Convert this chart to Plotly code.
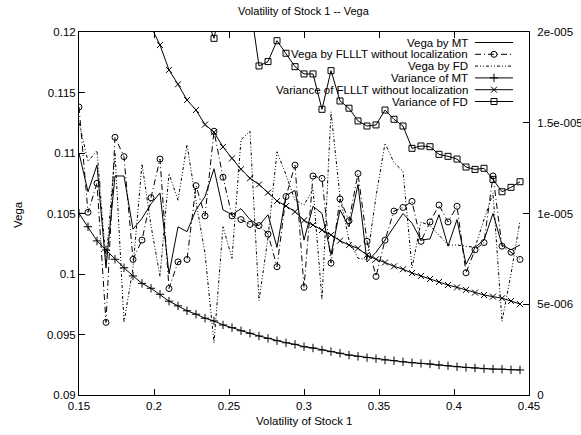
import plotly.graph_objects as go

# ---------------- data ----------------
vol = [0.150, 0.156, 0.162, 0.168, 0.174, 0.180, 0.186, 0.192, 0.198, 0.204,
       0.210, 0.216, 0.222, 0.228, 0.234, 0.240, 0.246, 0.252, 0.258, 0.264,
       0.270, 0.276, 0.282, 0.288, 0.294, 0.300, 0.306, 0.312, 0.318, 0.324,
       0.330, 0.336, 0.342, 0.348, 0.354, 0.360, 0.366, 0.372, 0.378, 0.384,
       0.390, 0.396, 0.402, 0.408, 0.414, 0.420, 0.426, 0.432, 0.438, 0.444]

vega_mt = [0.1100, 0.1068, 0.1090, 0.1005, 0.1081, 0.1081, 0.1037, 0.1046, 0.1058, 0.1067,
           0.1000, 0.1039, 0.1035, 0.1053, 0.1064, 0.1087, 0.1053, 0.1049, 0.1054, 0.1045,
           0.1040, 0.1049, 0.1022, 0.1065, 0.1069, 0.1028, 0.1056, 0.1050, 0.1016, 0.1053,
           0.1039, 0.1074, 0.1010, 0.1018, 0.1028, 0.1039, 0.1050, 0.1042, 0.1028, 0.1029,
           0.1049, 0.1023, 0.1045, 0.1008, 0.1022, 0.1028, 0.1050, 0.1024, 0.1020, 0.1024]

vega_fl = [0.1138, 0.1051, 0.1075, 0.0960, 0.1113, 0.1097, 0.1012, 0.1028, 0.1063, 0.1095,
           0.0988, 0.1010, 0.1012, 0.1073, 0.1048, 0.1118, 0.1080, 0.1048, 0.1045, 0.1041,
           0.1040, 0.1033, 0.1006, 0.1064, 0.1090, 0.0989, 0.1081, 0.1079, 0.1009, 0.1062,
           0.1044, 0.1083, 0.1027, 0.0998, 0.1028, 0.1052, 0.1055, 0.1060, 0.1027, 0.1043,
           0.1057, 0.1043, 0.1056, 0.1001, 0.1020, 0.1026, 0.1081, 0.1023, 0.1018, 0.1012]

vega_fd = [0.1125, 0.1093, 0.1102, 0.1010, 0.1100, 0.0960, 0.1005, 0.1091, 0.1040, 0.0998,
           0.1083, 0.1061, 0.1107, 0.1060, 0.1017, 0.0943, 0.1039, 0.1013, 0.1111, 0.1118,
           0.0978, 0.1030, 0.1101, 0.1082, 0.1061, 0.1057, 0.1070, 0.0979, 0.1134, 0.1064,
           0.1028, 0.1013, 0.1012, 0.1064, 0.1108, 0.1092, 0.1085, 0.1005, 0.1043, 0.1040,
           0.1032, 0.1024, 0.1024, 0.1023, 0.1022, 0.1045, 0.1067, 0.0961, 0.1000, 0.1044]

var_mt = [1.001e-5, 9.27e-6, 8.49e-6, 7.99e-6, 7.48e-6, 7.01e-6, 6.56e-6, 6.15e-6, 5.88e-6, 5.55e-6,
          5.17e-6, 4.91e-6, 4.64e-6, 4.45e-6, 4.23e-6, 4.08e-6, 3.86e-6, 3.71e-6, 3.54e-6, 3.40e-6,
          3.25e-6, 3.12e-6, 2.99e-6, 2.88e-6, 2.79e-6, 2.66e-6, 2.59e-6, 2.48e-6, 2.39e-6, 2.30e-6,
          2.20e-6, 2.13e-6, 2.06e-6, 2.00e-6, 1.93e-6, 1.89e-6, 1.83e-6, 1.78e-6, 1.74e-6, 1.71e-6,
          1.65e-6, 1.61e-6, 1.56e-6, 1.52e-6, 1.49e-6, 1.45e-6, 1.43e-6, 1.42e-6, 1.39e-6, 1.38e-6]

var_fl = [3.50e-5, 3.25e-5, 3.00e-5, 2.80e-5, 2.60e-5, 2.43e-5, 2.28e-5, 2.15e-5, 2.03e-5, 1.928e-5,
          1.791e-5, 1.712e-5, 1.625e-5, 1.570e-5, 1.490e-5, 1.448e-5, 1.367e-5, 1.304e-5, 1.244e-5, 1.194e-5,
          1.160e-5, 1.115e-5, 1.069e-5, 1.041e-5, 1.010e-5, 9.62e-6, 9.37e-6, 9.09e-6, 8.82e-6, 8.50e-6,
          8.26e-6, 8.08e-6, 7.71e-6, 7.48e-6, 7.30e-6, 7.09e-6, 6.93e-6, 6.72e-6, 6.56e-6, 6.39e-6,
          6.23e-6, 6.06e-6, 5.93e-6, 5.79e-6, 5.64e-6, 5.51e-6, 5.42e-6, 5.33e-6, 5.18e-6, 5.01e-6]

var_fd = [3.60e-5, 3.30e-5, 3.50e-5, 3.00e-5, 3.10e-5, 2.90e-5, 2.80e-5, 2.95e-5, 2.60e-5, 2.70e-5,
          2.50e-5, 2.45e-5, 2.30e-5, 2.35e-5, 2.10e-5, 1.965e-5, 2.20e-5, 2.05e-5, 2.25e-5, 2.16e-5,
          1.813e-5, 1.837e-5, 1.952e-5, 1.883e-5, 1.809e-5, 1.769e-5, 1.769e-5, 1.574e-5, 1.787e-5, 1.620e-5,
          1.580e-5, 1.510e-5, 1.482e-5, 1.488e-5, 1.570e-5, 1.519e-5, 1.482e-5, 1.359e-5, 1.372e-5, 1.368e-5,
          1.326e-5, 1.315e-5, 1.300e-5, 1.256e-5, 1.243e-5, 1.249e-5, 1.188e-5, 1.120e-5, 1.144e-5, 1.175e-5]

x_ticks = [0.15, 0.2, 0.25, 0.3, 0.35, 0.4, 0.45]
x_ticktext = ["0.15", "0.2", "0.25", "0.3", "0.35", "0.4", "0.45"]
y_ticks = [0.09, 0.095, 0.1, 0.105, 0.11, 0.115, 0.12]
y_ticktext = ["0.09", "0.095", "0.1", "0.105", "0.11", "0.115", "0.12"]
y2_ticks = [0, 5e-6, 1e-5, 1.5e-5, 2e-5]
y2_ticktext = ["0", "5e-006", "1e-005", "1.5e-005", "2e-005"]

names = ["Vega by MT", "Vega by FLLLT without localization", "Vega by FD",
         "Variance of MT", "Variance of FLLLT without localization", "Variance of FD"]

# ---------------- styles ----------------
FONT = "Liberation Sans, Arial, Helvetica, sans-serif"
LC = "#000000"
dash_fl = "6px,3px,1px,3px"
dash_fd = "3px,2px,1px,2px,1px,2px"
styles = [
    dict(dash="solid", symbol=None),
    dict(dash=dash_fl, symbol="circle-open"),
    dict(dash=dash_fd, symbol=None),
    dict(dash="solid", symbol="cross-thin-open"),
    dict(dash="solid", symbol="x-thin-open"),
    dict(dash="solid", symbol="square-open"),
]
series = [(vega_mt, "y"), (vega_fl, "y"), (vega_fd, "y"),
          (var_mt, "y2"), (var_fl, "y2"), (var_fd, "y2")]
MS = 6

fig = go.Figure()
for (vals, ax), st, nm in zip(series, styles, names):
    mode = "lines+markers" if st["symbol"] else "lines"
    tr = dict(x=vol, y=vals, name=nm, mode=mode, yaxis=ax, showlegend=False,
              line=dict(color=LC, width=1, dash=st["dash"]))
    if st["symbol"]:
        tr["marker"] = dict(symbol=st["symbol"], size=MS, color=LC,
                            line=dict(color=LC, width=1))
    fig.add_trace(go.Scatter(**tr))

# ---------------- gnuplot-like key (top right, text right-aligned) ----------------
L, R, T, B = 79, 529, 32, 395
def px_x(p):
    return (p - L) / (R - L)
def px_y(p):
    return (B - p) / (B - T)

row_py = [42.5, 54.3, 66.1, 77.9, 89.7, 101.5]
sx0, sx1, sxm, tx = px_x(475), px_x(513), px_x(494), px_x(470)
for nm, st, py in zip(names, styles, row_py):
    yy = px_y(py)
    fig.add_trace(go.Scatter(x=[sx0, sx1], y=[yy, yy], mode="lines", xaxis="x3", yaxis="y3",
                             showlegend=False, hoverinfo="skip",
                             line=dict(color=LC, width=1, dash=st["dash"])))
    if st["symbol"]:
        fig.add_trace(go.Scatter(x=[sxm], y=[yy], mode="markers", xaxis="x3", yaxis="y3",
                                 showlegend=False, hoverinfo="skip",
                                 marker=dict(symbol=st["symbol"], size=MS, color=LC,
                                             line=dict(color=LC, width=1))))
    fig.add_annotation(x=tx, y=yy, xref="x3", yref="y3", text=nm, showarrow=False,
                       xanchor="right", yanchor="middle",
                       font=dict(family=FONT, size=11.5, color="#000"))

axis_common = dict(showgrid=False, zeroline=False, showline=True, linecolor="#000",
                   linewidth=1, ticks="inside", ticklen=6, tickcolor="#000",
                   automargin=False,
                   tickfont=dict(family=FONT, size=11.5, color="#000"))

fig.update_layout(
    width=581, height=435, autosize=False,
    margin=dict(l=L, r=581 - R, t=T, b=435 - B, pad=0),
    paper_bgcolor="white", plot_bgcolor="white",
    showlegend=False,
    xaxis=dict(range=[0.15, 0.45], tickvals=x_ticks, ticktext=x_ticktext,
               mirror="ticks", **axis_common),
    yaxis=dict(range=[0.09, 0.12], tickvals=y_ticks, ticktext=y_ticktext,
               **axis_common),
    yaxis2=dict(range=[0, 2e-5], tickvals=y2_ticks, ticktext=y2_ticktext,
                overlaying="y", side="right", ticklabelstandoff=5, **axis_common),
    xaxis3=dict(range=[0, 1], overlaying="x", visible=False, fixedrange=True),
    yaxis3=dict(range=[0, 1], overlaying="y", visible=False, fixedrange=True),
)
fig.add_annotation(text="Volatility of Stock 1 -- Vega", xref="paper", yref="paper",
                   x=0.5, y=px_y(11), xanchor="center", yanchor="middle",
                   showarrow=False, font=dict(family=FONT, size=11, color="#000"))
fig.add_annotation(text="Volatility of Stock 1", xref="paper", yref="paper",
                   x=0.5, y=px_y(421), xanchor="center", yanchor="middle",
                   showarrow=False, font=dict(family=FONT, size=11.5, color="#000"))
fig.add_annotation(text="Vega", xref="paper", yref="paper",
                   x=px_x(18), y=px_y(214), xanchor="center", yanchor="middle",
                   textangle=-90, showarrow=False,
                   font=dict(family=FONT, size=11.5, color="#000"))

fig.write_html("out.html", config={"displayModeBar": False},
               post_script="document.body.style.margin='0px';document.body.style.overflow='hidden';")
